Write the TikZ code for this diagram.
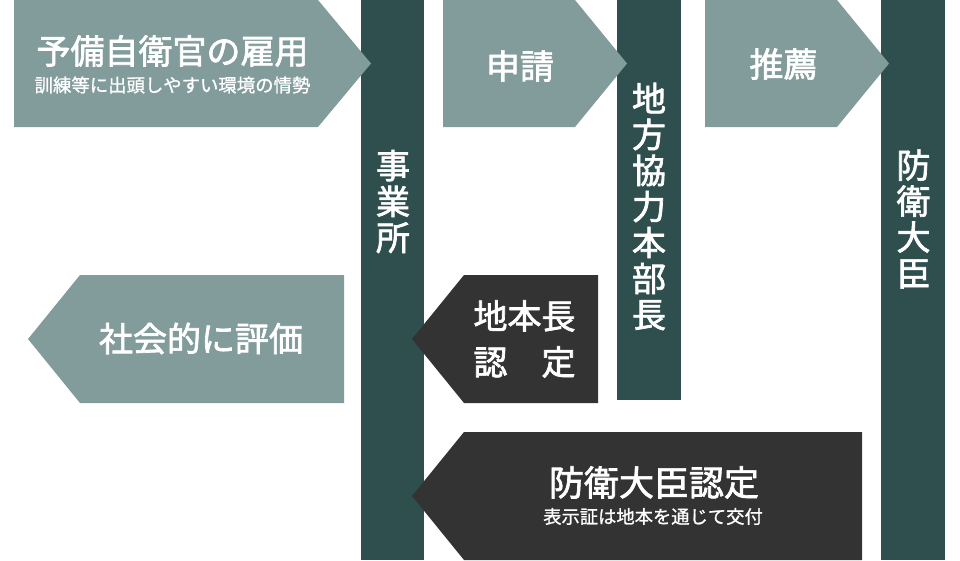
\documentclass[tikz,border=0pt]{standalone}
\usepackage{fontspec}
\setmainfont{Noto Sans CJK JP}
\newfontfamily\jpmed{Noto Sans CJK JP}[FakeBold=2]
\newfontfamily\jpsub{Noto Sans CJK JP}[FakeBold=1]
\definecolor{lightsh}{RGB}{130,155,155}
\definecolor{barcol}{RGB}{47,79,79}
\definecolor{darksh}{RGB}{51,51,51}
\tikzset{
  bar/.style={fill=barcol},
  lightarrow/.style={fill=lightsh},
  darkarrow/.style={fill=darksh},
  maintext/.style={text=white, inner sep=0pt, font=\fontsize{34}{36}\selectfont\jpmed},
  subtext/.style={text=white, inner sep=0pt, font=\fontsize{18.4}{22}\selectfont\jpsub},
  vtext/.style={text=white, inner sep=0pt, align=center, font=\fontsize{34}{36}\selectfont\jpmed},
}
\begin{document}
\begin{tikzpicture}[x=1pt,y=-1pt]
\useasboundingbox (0,0) rectangle (960,560);
% vertical bars
\path[bar] (361,0) rectangle (424,560);
\path[bar] (617,0) rectangle (681,400);
\path[bar] (881,0) rectangle (945,560);
% right-pointing light arrows
\path[lightarrow] (14,0) -- (318,0) -- (371,63.5) -- (318,127) -- (14,127) -- cycle;
\path[lightarrow] (443,0) -- (575,0) -- (627,63.5) -- (575,127) -- (443,127) -- cycle;
\path[lightarrow] (705,0) -- (837,0) -- (889,63.5) -- (837,127) -- (705,127) -- cycle;
% left-pointing arrows
\path[lightarrow] (344,275) -- (80,275) -- (28,339) -- (80,403) -- (344,403) -- cycle;
\path[darkarrow] (598,275) -- (464,275) -- (412,339) -- (464,403) -- (598,403) -- cycle;
\path[darkarrow] (862,432) -- (464,432) -- (412,496) -- (464,560) -- (862,560) -- cycle;
% bar labels
\node[vtext] (jigyosho) at (393,201.5) {事\\業\\所};
\node[vtext] (chihon) at (649,206.5) {地\\方\\協\\力\\本\\部\\長};
\node[vtext] (daijin) at (913.5,219) {防\\衛\\大\\臣};
% arrow labels
\node[maintext] (koyo) at (172.5,51) {予備自衛官の雇用};
\node[subtext] (koyosub) at (172.5,85) {訓練等に出頭しやすい環境の情勢};
\node[maintext] (shinsei) at (520,66) {申請};
\node[maintext] (suisen) at (783.5,64) {推薦};
\node[maintext] (hyoka) at (201,338.5) {社会的に評価};
\node[vtext, font=\fontsize{34}{46}\selectfont\jpmed] (nintei1) at (524.5,339) {地本長\\認　定};
\node[maintext, font=\fontsize{35}{36}\selectfont\jpmed] (nintei2) at (654,482.5) {防衛大臣認定};
\node[subtext, font=\fontsize{18.3}{22}\selectfont\jpsub] (nintei2sub) at (653,516.5) {表示証は地本を通じて交付};
\end{tikzpicture}
\end{document}
